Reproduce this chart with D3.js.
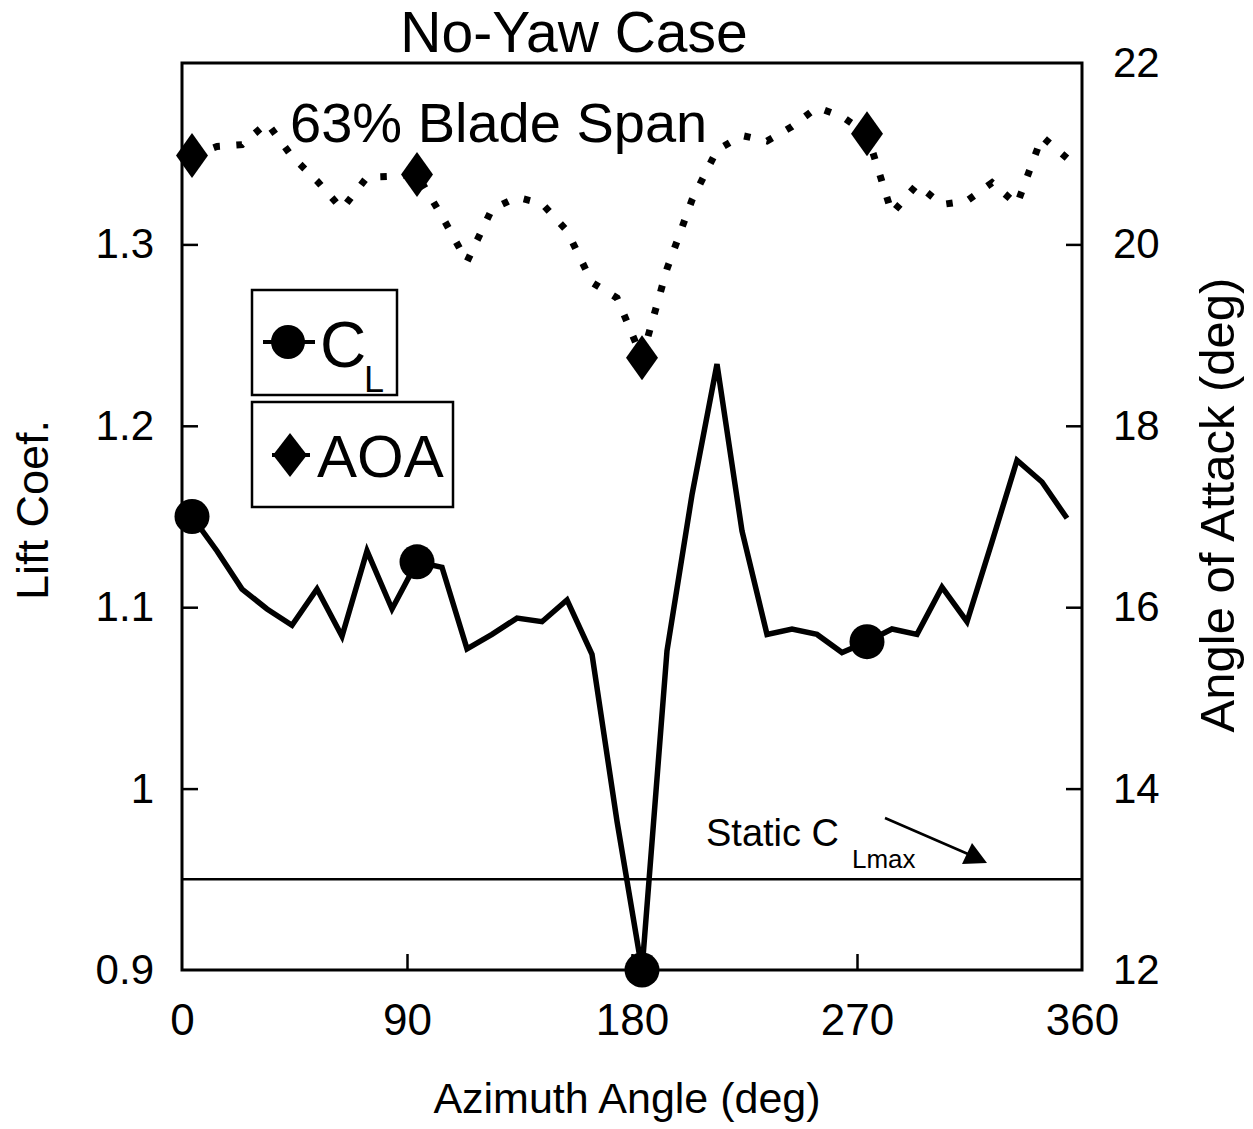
<!DOCTYPE html>
<html>
<head>
<meta charset="utf-8">
<script src="https://cdn.jsdelivr.net/npm/d3@7"></script>
<style>
  html, body { margin: 0; padding: 0; background: #fff; }
  svg { display: block; }
  text { font-family: "Liberation Sans", Arial, Helvetica, sans-serif; fill: #000; }
</style>
</head>
<body>
<svg id="chart" width="1253" height="1129"></svg>
<script>
// ---- data ----
const azimuth = [4,14,24,34,44,54,64,74,84,94,104,114,124,134,144,154,164,174,
                 184,194,204,214,224,234,244,254,264,274,284,294,304,314,324,334,344,354];
const liftCoef = [1.150,1.131,1.110,1.099,1.090,1.110,1.084,1.131,1.099,1.125,1.122,1.077,
                  1.085,1.094,1.092,1.104,1.074,0.982,0.900,1.076,1.162,1.234,1.142,1.085,
                  1.088,1.085,1.075,1.081,1.088,1.085,1.111,1.092,1.136,1.181,1.169,1.149];
const angleOfAttack = [20.98,21.08,21.10,21.34,20.97,20.70,20.39,20.74,20.75,20.77,20.31,19.81,
                       20.39,20.52,20.45,20.15,19.58,19.41,18.75,19.73,20.49,21.04,21.20,21.14,
                       21.30,21.51,21.41,21.22,20.34,20.66,20.44,20.48,20.68,20.44,21.19,20.95];
const markerAzimuths = [4,94,184,274];
const staticClMax = 0.95;
const xTicks = [0,90,180,270,360];
const yLeftTicks = [0.9,1.0,1.1,1.2,1.3];
const yRightTicks = [12,14,16,18,20,22];

// ---- layout ----
const svg = d3.select("#chart");
const pL = 182, pR = 1082, pT = 63, pB = 970;
const x = d3.scaleLinear().domain([0,360]).range([pL,pR]);
const yL = d3.scaleLinear().domain([0.9,1.4]).range([pB,pT]);
const yR = d3.scaleLinear().domain([12,22]).range([pB,pT]);

const clData = azimuth.map((a,i)=>({a, v: liftCoef[i]}));
const aoaData = azimuth.map((a,i)=>({a, v: angleOfAttack[i]}));

// static CLmax line
svg.append("line")
  .attr("x1", x(0)).attr("x2", x(360))
  .attr("y1", yL(staticClMax)).attr("y2", yL(staticClMax))
  .attr("stroke","#000").attr("stroke-width",2.5);

// AOA dotted line
svg.append("path").datum(aoaData)
  .attr("fill","none").attr("stroke","#000")
  .attr("stroke-width",7).attr("stroke-dasharray","6.5 16.5")
  .attr("d", d3.line().x(d=>x(d.a)).y(d=>yR(d.v)));

// CL solid line
svg.append("path").datum(clData)
  .attr("fill","none").attr("stroke","#000")
  .attr("stroke-width",5.5).attr("stroke-linejoin","miter")
  .attr("d", d3.line().x(d=>x(d.a)).y(d=>yL(d.v)));

// markers
const diamond = (cx,cy,hw,hh)=>`M${cx},${cy-hh}L${cx+hw},${cy}L${cx},${cy+hh}L${cx-hw},${cy}Z`;
svg.selectAll("path.dia").data(aoaData.filter(d=>markerAzimuths.includes(d.a)))
  .join("path").attr("class","dia")
  .attr("d", d=>diamond(x(d.a), yR(d.v), 16, 22.5)).attr("fill","#000");
svg.selectAll("circle.cl").data(clData.filter(d=>markerAzimuths.includes(d.a)))
  .join("circle").attr("class","cl")
  .attr("cx", d=>x(d.a)).attr("cy", d=>yL(d.v)).attr("r",17.5).attr("fill","#000");

// frame
svg.append("rect").attr("x",pL).attr("y",pT).attr("width",pR-pL).attr("height",pB-pT)
  .attr("fill","none").attr("stroke","#000").attr("stroke-width",3);

// axes
const fmtL = d => d === 1 ? "1" : d3.format(".1f")(d);
const gx = svg.append("g").attr("transform",`translate(0,${pB})`)
  .call(d3.axisBottom(x).tickValues(xTicks).tickSizeInner(-16).tickSizeOuter(0).tickPadding(34));
const gl = svg.append("g").attr("transform",`translate(${pL},0)`)
  .call(d3.axisLeft(yL).tickValues(yLeftTicks).tickFormat(fmtL).tickSizeInner(-16).tickSizeOuter(0).tickPadding(28));
const gr = svg.append("g").attr("transform",`translate(${pR},0)`)
  .call(d3.axisRight(yR).tickValues(yRightTicks).tickSizeInner(-16).tickSizeOuter(0).tickPadding(46));
[gx,gl,gr].forEach(g=>{
  g.select(".domain").remove();
  g.selectAll(".tick line").attr("stroke","#000").attr("stroke-width",2.5);
  g.selectAll(".tick text").attr("fill","#000").style("font-family",'"Liberation Sans", Arial, sans-serif');
});
gx.selectAll(".tick text").style("font-size","44px");
gl.selectAll(".tick text").style("font-size","42px");
gr.selectAll(".tick text").style("font-size","42px").attr("dx",-15);
gx.selectAll(".tick").filter(d=>d===0||d===360).select("line").remove();
gl.selectAll(".tick").filter(d=>d===0.9).select("line").remove();
gr.selectAll(".tick").filter(d=>d===12||d===22).select("line").remove();

// titles
svg.append("text").attr("x",574).attr("y",52).attr("text-anchor","middle")
  .style("font-size","57px").text("No-Yaw Case");
svg.append("text").attr("x",290).attr("y",142)
  .style("font-size","56px").text("63% Blade Span");
svg.append("text").attr("x",627).attr("y",1113).attr("text-anchor","middle")
  .style("font-size","43px").text("Azimuth Angle (deg)");
svg.append("text").attr("transform","translate(48,510) rotate(-90)").attr("text-anchor","middle")
  .style("font-size","45px").text("Lift Coef.");
svg.append("text").attr("transform","translate(1234,505) rotate(-90)").attr("text-anchor","middle")
  .style("font-size","49px").text("Angle of Attack (deg)");

// legend
svg.append("rect").attr("x",252).attr("y",290).attr("width",145).attr("height",105)
  .attr("fill","#fff").attr("stroke","#000").attr("stroke-width",2.5);
svg.append("line").attr("x1",263).attr("x2",315).attr("y1",342).attr("y2",342)
  .attr("stroke","#000").attr("stroke-width",4);
svg.append("circle").attr("cx",288).attr("cy",342).attr("r",17).attr("fill","#000");
svg.append("text").attr("x",320).attr("y",367).style("font-size","64px").text("C");
svg.append("text").attr("x",364).attr("y",392).style("font-size","36px").text("L");

svg.append("rect").attr("x",252).attr("y",402).attr("width",201).attr("height",105)
  .attr("fill","#fff").attr("stroke","#000").attr("stroke-width",2.5);
svg.append("line").attr("x1",272).attr("x2",310).attr("y1",455).attr("y2",455)
  .attr("stroke","#000").attr("stroke-width",4);
svg.append("path").attr("d",diamond(290,455,17,22)).attr("fill","#000");
svg.append("text").attr("x",317).attr("y",477).style("font-size","60px").text("AOA");

// static CLmax annotation
svg.append("text").attr("x",706).attr("y",846).style("font-size","38px").text("Static C");
svg.append("text").attr("x",852).attr("y",868).style("font-size","26px").text("Lmax");
svg.append("line").attr("x1",885).attr("y1",818).attr("x2",968).attr("y2",854)
  .attr("stroke","#000").attr("stroke-width",2.5);
svg.append("path").attr("d","M987,863 L962,864 L972,843 Z").attr("fill","#000");
</script>
</body>
</html>
